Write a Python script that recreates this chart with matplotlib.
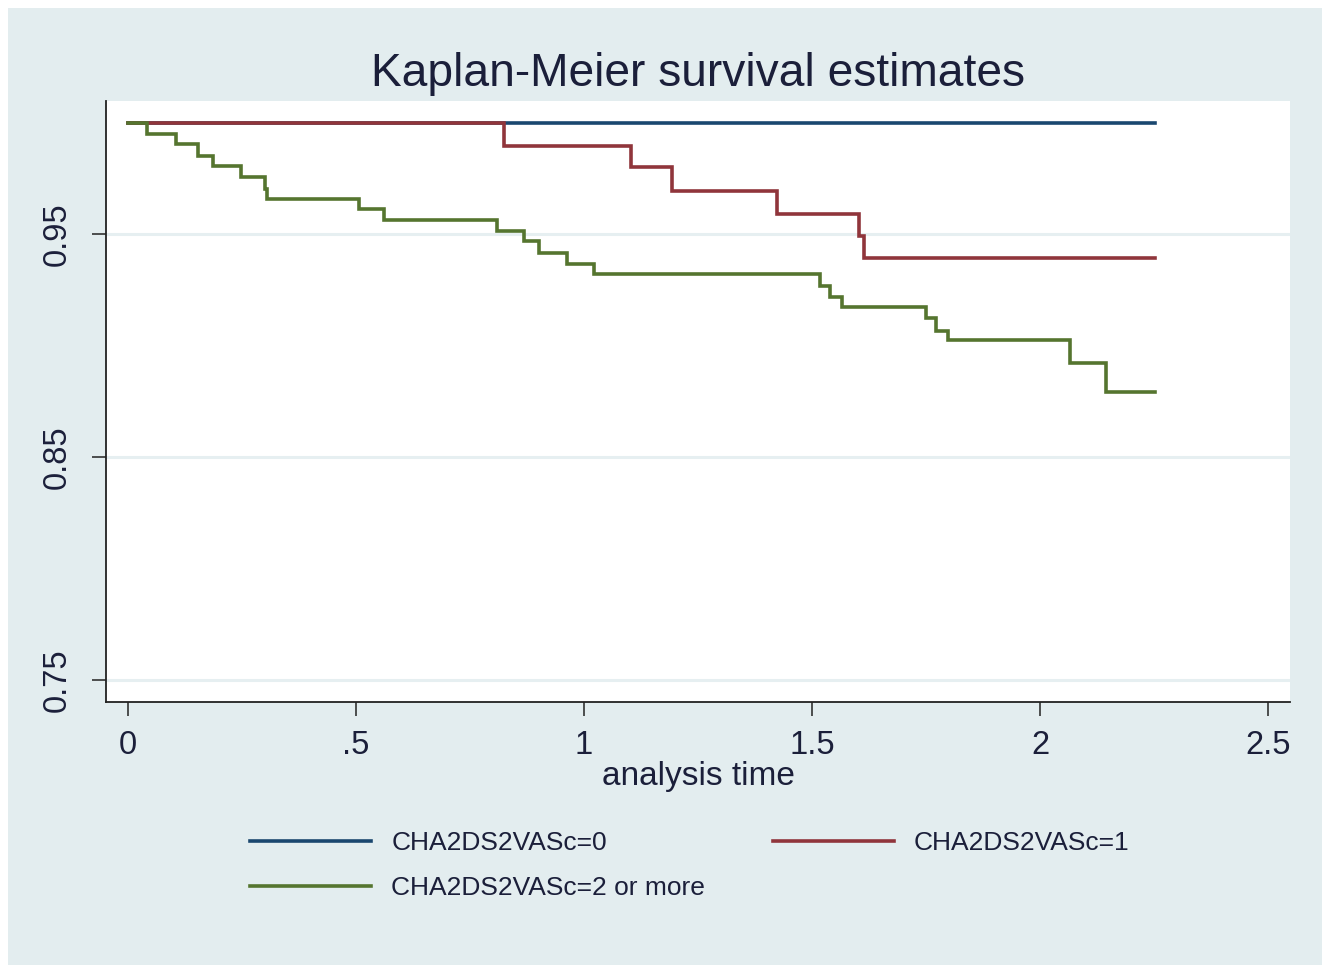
import matplotlib
matplotlib.use("Agg")
from matplotlib import pyplot as plt
from matplotlib.patches import Rectangle

plt.rcParams['font.family'] = ['Liberation Sans', 'DejaVu Sans']

# survival curves (time, estimate), step post
t_0 = [0, 2.251]
s_0 = [1.0, 1.0]

t_1 = [0, 0.825, 1.103, 1.192, 1.423, 1.603, 1.615, 2.251]
s_1 = [1.0, 0.9897, 0.9800, 0.9696, 0.9592, 0.9494, 0.9394, 0.9394]

t_2 = [0, 0.041, 0.105, 0.153, 0.186, 0.249, 0.300, 0.304, 0.507, 0.562,
       0.809, 0.869, 0.902, 0.963, 1.023, 1.517, 1.539, 1.565, 1.751, 1.772,
       1.799, 2.066, 2.145, 2.251]
s_2 = [1.0, 0.9950, 0.9905, 0.9850, 0.9807, 0.9756, 0.9704, 0.9659, 0.9612, 0.9566,
       0.9513, 0.9469, 0.9417, 0.9366, 0.9321, 0.9270, 0.9218, 0.9174, 0.9124, 0.9068,
       0.9025, 0.8922, 0.8793, 0.8793]

labels = ["CHA2DS2VASc=0", "CHA2DS2VASc=1", "CHA2DS2VASc=2 or more"]
colors = ["#1a476f", "#90353b", "#55752f"]

xticks = [0, 0.5, 1, 1.5, 2, 2.5]
xticklabels = ["0", ".5", "1", "1.5", "2", "2.5"]
yticks = [0.75, 0.85, 0.95]
yticklabels = ["0.75", "0.85", "0.95"]

W, H = 1331, 969
bg = "#e3edef"
txt = "#1b1f3a"

fig = plt.figure(figsize=(W / 100, H / 100), dpi=100, facecolor="white")
fig.patches.append(Rectangle((8 / W, 4 / H), 1314 / W, 957 / H, transform=fig.transFigure,
                             facecolor=bg, edgecolor="none", zorder=-10))

ax = fig.add_axes([106 / W, 1 - 702 / H, (1290 - 106) / W, (702 - 101) / H])
ax.set_facecolor("white")

lines = []
for t, s, c, lab in zip([t_0, t_1, t_2], [s_0, s_1, s_2], colors, labels):
    ln, = ax.step(t, s, where='post', color=c, lw=2.6, label=lab, solid_joinstyle='miter')
    lines.append(ln)

ax.set_xlim(-0.048, 2.548)
ax.set_ylim(0.7402, 1.0098)
ax.set_xticks(xticks)
ax.set_xticklabels(xticklabels)
ax.set_yticks(yticks)
ax.set_yticklabels(yticklabels, rotation=90, va='center')
ax.tick_params(axis='both', direction='out', length=10, width=1.1, colors="#222222",
               labelsize=23.5, labelcolor=txt)
ax.tick_params(axis='x', pad=10)
ax.tick_params(axis='y', pad=14)
ax.grid(axis='y', color="#e6eff1", lw=2.2)
ax.set_axisbelow(True)
for sp in ["top", "right"]:
    ax.spines[sp].set_visible(False)
for sp in ["left", "bottom"]:
    ax.spines[sp].set_color("#222222")
    ax.spines[sp].set_linewidth(1.3)

ax.set_title("Kaplan-Meier survival estimates", fontsize=33.2, color=txt, pad=11)
ax.set_xlabel("analysis time", fontsize=24, color=txt, labelpad=0)

leg = fig.legend([lines[0], lines[2], lines[1]], [labels[0], labels[2], labels[1]],
                 ncol=2, loc='upper left', bbox_to_anchor=(250 / W, 1 - 831 / H),
                 frameon=False, fontsize=19, handlelength=4.6, handletextpad=0.75,
                 columnspacing=2.57, labelspacing=0.8, borderpad=0, borderaxespad=0)
for tx in leg.get_texts():
    tx.set_color(txt)

fig.savefig("out.png", dpi=100, facecolor="white")
